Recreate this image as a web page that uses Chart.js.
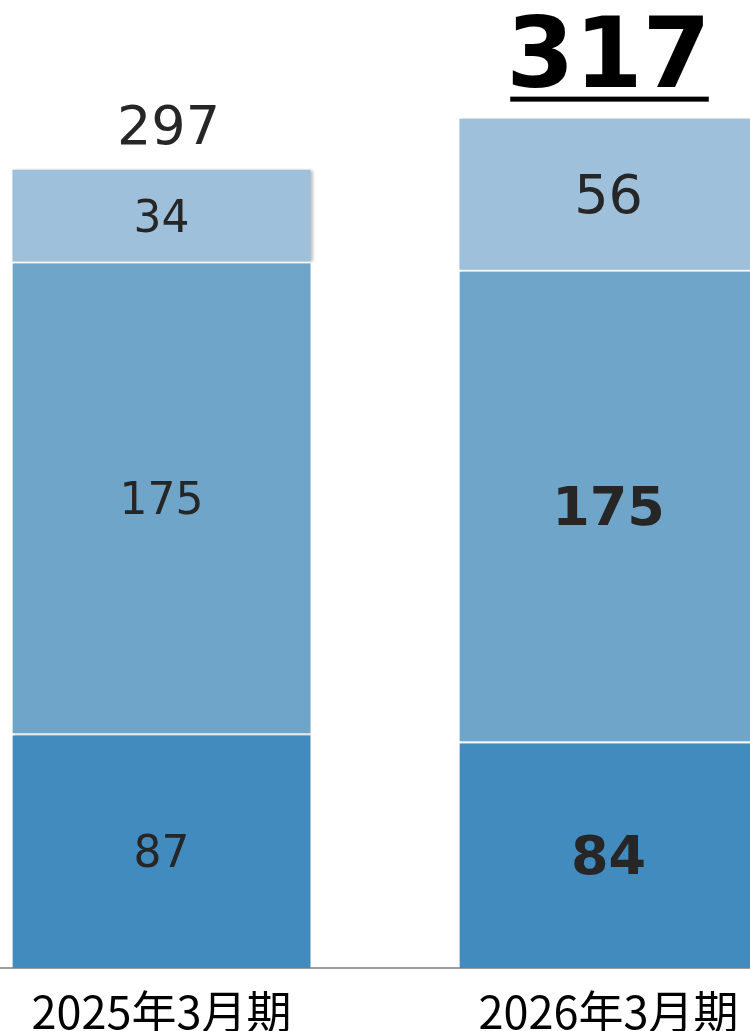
<!DOCTYPE html>
<html>
<head>
<meta charset="utf-8">
<script src="https://cdn.jsdelivr.net/npm/chart.js@4/dist/chart.umd.min.js"></script>
<style>
  html, body { margin: 0; padding: 0; background: #fff; overflow: hidden; width: 750px; height: 1031px; }
  #wrap { position: absolute; left: -62.5px; top: 0; width: 1000px; height: 1060px; }
</style>
</head>
<body>
<div id="wrap"><canvas id="sales-chart"></canvas></div>
<script>
var periods = ['2025年3月期', '2026年3月期'];
var bottomValues = [87, 84];
var middleValues = [175, 175];
var topValues = [34, 56];
var totals = [297, 317];

// label looks per bar: [size, weight] for bottom / middle / top
var labelLook = [
    [[44, 'normal'], [44, 'normal'], [44, 'normal']],
    [[54, 'bold'], [54, 'bold'], [54, 'normal']]
];

const salesChart = document.getElementById('sales-chart');

const barShadow = {
    id: 'barShadow',
    beforeDatasetsDraw(chart) {
        const ctx = chart.ctx;
        ctx.save();
        ctx.shadowColor = 'rgba(0,0,0,0.25)';
        ctx.shadowBlur = 3;
        ctx.shadowOffsetX = 2;
    },
    afterDatasetsDraw(chart) {
        chart.ctx.restore();
    }
};

const valueLabels = {
    id: 'valueLabels',
    afterDraw(chart) {
        const ctx = chart.ctx;
        ctx.save();
        ctx.textAlign = 'center';
        ctx.textBaseline = 'middle';
        ctx.fillStyle = '#262626';
        chart.data.datasets.forEach(function (ds, d) {
            const meta = chart.getDatasetMeta(d);
            meta.data.forEach(function (bar, i) {
                const look = labelLook[i][d];
                ctx.font = look[1] + ' ' + look[0] + 'px "DejaVu Sans"';
                ctx.fillText(ds.data[i], bar.x, (bar.y + bar.base) / 2 + 5);
            });
        });
        // totals above each stack
        const last = chart.getDatasetMeta(chart.data.datasets.length - 1);
        last.data.forEach(function (bar, i) {
            if (i === periods.length - 1) {
                ctx.fillStyle = '#000';
                ctx.font = 'bold 98px "DejaVu Sans"';
                const y = bar.y - 57;
                ctx.fillText(totals[i], bar.x, y);
                const w = ctx.measureText(String(totals[i])).width;
                ctx.fillRect(bar.x - w / 2 + 4, y + 35, w - 6, 5);
            } else {
                ctx.fillStyle = '#262626';
                ctx.font = 'normal 54px "DejaVu Sans"';
                ctx.fillText(totals[i], bar.x + 7, bar.y - 40);
            }
        });
        ctx.restore();
    }
};

var loggedDataChart = new Chart(salesChart, {
    type: 'bar',
    data: {
        labels: periods,
        datasets: [{
            data: bottomValues,
            backgroundColor: '#428bbf',
            borderColor: '#ffffff',
            borderWidth: { top: 2, left: 0, right: 0, bottom: 0 },
            borderSkipped: false
        }, {
            data: middleValues,
            backgroundColor: '#6ea5c9',
            borderColor: '#ffffff',
            borderWidth: { top: 2, left: 0, right: 0, bottom: 0 },
            borderSkipped: false
        }, {
            data: topValues,
            backgroundColor: '#9fc0da',
            borderWidth: 0
        }]
    },
    options: {
        responsive: true,
        maintainAspectRatio: false,
        animation: false,
        barPercentage: 0.667,
        categoryPercentage: 1,
        layout: {
            padding: { top: 0, left: 0, right: 106, bottom: 4 }
        },
        plugins: {
            legend: { display: false },
            tooltip: { enabled: false }
        },
        scales: {
            x: {
                stacked: true,
                grid: { display: false, drawTicks: false },
                border: { display: true, color: '#9c9c9c', width: 2 },
                ticks: {
                    color: '#000',
                    padding: 17,
                    font: { family: '"Noto Sans CJK JP"', size: 45 }
                }
            },
            y: {
                stacked: true,
                display: false,
                min: 0,
                max: 359
            }
        }
    },
    plugins: [barShadow, valueLabels]
});
</script>
</body>
</html>
